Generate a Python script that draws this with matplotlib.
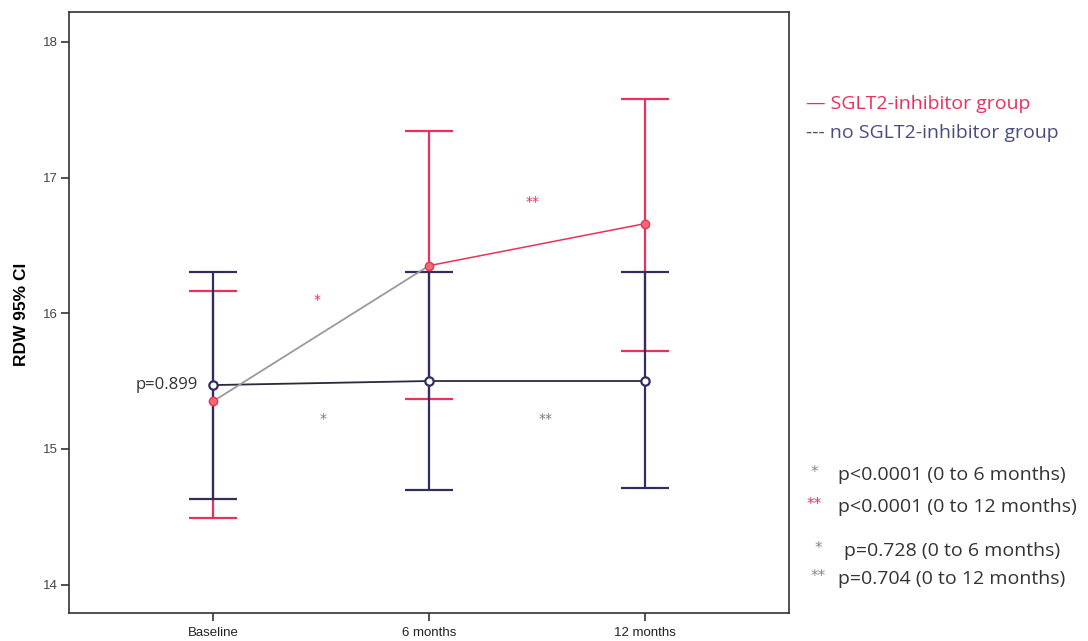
import matplotlib
matplotlib.use("Agg")
import matplotlib.pyplot as plt
import numpy as np

categories = ["Baseline", "6 months", "12 months"]
sglt2_mean = [15.35, 16.35, 16.66]
sglt2_low = [14.49, 15.37, 15.72]
sglt2_high = [16.16, 17.34, 17.58]
no_sglt2_mean = [15.47, 15.50, 15.50]
no_sglt2_low = [14.63, 14.70, 14.71]
no_sglt2_high = [16.30, 16.30, 16.30]
yticks = [14, 15, 16, 17, 18]

RED = "#e8325a"
BLUE = "#2e2f5e"
GRAY_LINE = "#9a9a9a"

fig = plt.figure(figsize=(10.88, 6.41), dpi=100)
ax = fig.add_axes([69/1088, 1-613/641, (789-69)/1088, (613-12)/641])
x = np.arange(len(categories))

# red series first (blue drawn on top where they overlap)
ax.errorbar(x, sglt2_mean,
            yerr=[np.array(sglt2_mean)-np.array(sglt2_low),
                  np.array(sglt2_high)-np.array(sglt2_mean)],
            fmt="none", ecolor=RED, elinewidth=1.6, capsize=17, capthick=1.6, zorder=2)
ax.errorbar(x, no_sglt2_mean,
            yerr=[np.array(no_sglt2_mean)-np.array(no_sglt2_low),
                  np.array(no_sglt2_high)-np.array(no_sglt2_mean)],
            fmt="none", ecolor=BLUE, elinewidth=1.6, capsize=17, capthick=1.6, zorder=2.5)
ax.plot(x, no_sglt2_mean, color="#2a2a3a", lw=1.3, zorder=3)
ax.plot(x[:2], sglt2_mean[:2], color=GRAY_LINE, lw=1.3, zorder=3)
ax.plot(x[1:], sglt2_mean[1:], color=RED, lw=1.1, zorder=3)
ax.plot(x, no_sglt2_mean, "o", ms=6, mfc="white", mec=BLUE, mew=1.6, zorder=4)
ax.plot(x, sglt2_mean, "o", ms=6, mfc="#f06a70", mec=RED, mew=1, zorder=4)

ax.set_xlim(-0.667, 2.667)
ax.set_ylim(13.79, 18.22)
ax.set_xticks(x)
ax.set_xticklabels(categories, fontsize=9.5, family="Liberation Sans", color="#222222")
ax.set_yticks(yticks)
ax.set_yticklabels([str(t) for t in yticks], fontsize=9.5, family="Liberation Sans", color="#444444")
ax.tick_params(axis="y", length=6, width=1.2, color="#333333", pad=2)
ax.tick_params(axis="x", length=6, width=1.2, color="#333333", pad=4)
for s in ax.spines.values():
    s.set_color("#333333")
    s.set_linewidth(1.2)
ax.set_ylabel("RDW 95% CI", fontsize=12.5, fontweight="bold", family="Liberation Sans")
ax.yaxis.set_label_coords((29 - 69) / (789 - 69), (613 - 314) / (613 - 12))

# annotations in data space
ax.text(-0.07, no_sglt2_mean[0], "p=0.899", ha="right", va="center",
        fontsize=12, family="Open Sans", color="#333333")
ax.text(0.48, 16.10, "*", ha="center", va="center", fontsize=10, color=RED, family="DejaVu Sans")
ax.text(0.51, 15.22, "*", ha="center", va="center", fontsize=10, color="#7a7a90", family="DejaVu Sans")
ax.text(1.48, 16.82, "**", ha="center", va="center", fontsize=10, color=RED, family="DejaVu Sans")
ax.text(1.54, 15.22, "**", ha="center", va="center", fontsize=10, color="#7a7a90", family="DejaVu Sans")

# legend-like text
fnt = "Open Sans"
fig.text(806/1088, 1-104/641, "— SGLT2-inhibitor group", color=RED, fontsize=14, family=fnt, va="center")
fig.text(806/1088, 1-133/641, "--- no SGLT2-inhibitor group", color="#4a4c80", fontsize=14, family=fnt, va="center")

rows = [(475, "*", "#888888", "p<0.0001 (0 to 6 months)", 811, 838),
        (507, "**", RED, "p<0.0001 (0 to 12 months)", 807, 838),
        (551, "*", "#888888", "p=0.728 (0 to 6 months)", 815, 844),
        (579, "**", "#888888", "p=0.704 (0 to 12 months)", 811, 838)]
for y, star, sc, txt, xs, xt in rows:
    fig.text(xs/1088, 1-(y-3)/641, star, color=sc, fontsize=11, family="DejaVu Sans", va="center")
    fig.text(xt/1088, 1-y/641, txt, color="#333333", fontsize=14, family=fnt, va="center")

fig.savefig("out.png", dpi=100)
